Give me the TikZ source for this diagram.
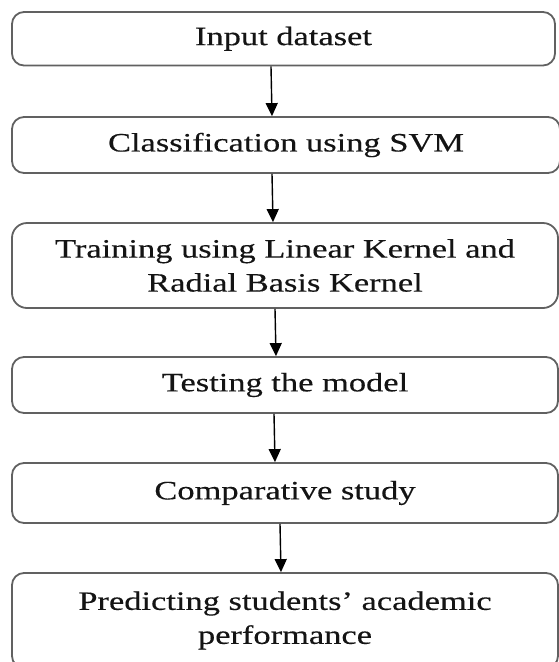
\documentclass[tikz,border=0pt]{standalone}
\usepackage{fontspec}
\setmainfont[FakeStretch=1.3,FakeBold=0.3]{Liberation Serif}
\usetikzlibrary{arrows.meta}
\begin{document}
\begin{tikzpicture}[x=1pt,y=-1pt,
  stepbox/.style={draw=black!62, line width=1.8pt, rounded corners=12pt, fill=white,
    minimum width=546pt, inner sep=0pt, align=center, text=black!92,
    font=\fontsize{26.5}{34}\selectfont},
  arr/.style={draw=black, line width=1.4pt, -{Triangle[length=13pt,width=12pt]}}]
\useasboundingbox (0,0) rectangle (559,662);
\clip (0,0) rectangle (559,662);
\node[stepbox, minimum width=543pt, minimum height=53.5pt] (b1) at (283.5,38.75) {Input dataset};
\node[stepbox, minimum width=548pt, minimum height=56pt] (b2) at (286,145) {Classification using SVM};
\node[stepbox, rounded corners=15pt, minimum height=85pt] (b3) at (285,265.5) {Training using Linear Kernel and\\Radial Basis Kernel};
\node[stepbox, minimum height=56pt] (b4) at (285,385) {Testing the model};
\node[stepbox, minimum height=60pt] (b5) at (285,493) {Comparative study};
\node[stepbox, minimum height=95pt] (b6) at (285,620.5) {Predicting students’ academic\\performance};
\coordinate (a1s) at (271,0); \coordinate (a1e) at (272,0);
\coordinate (a2s) at (272,0); \coordinate (a2e) at (273,0);
\coordinate (a3s) at (275,0); \coordinate (a3e) at (276,0);
\coordinate (a4s) at (274,0); \coordinate (a4e) at (275,0);
\coordinate (a5s) at (280,0); \coordinate (a5e) at (281,0);
\draw[arr] (b1.south -| a1s) -- (b2.north -| a1e);
\draw[arr] (b2.south -| a2s) -- (b3.north -| a2e);
\draw[arr] (b3.south -| a3s) -- (b4.north -| a3e);
\draw[arr] (b4.south -| a4s) -- (b5.north -| a4e);
\draw[arr] (b5.south -| a5s) -- (b6.north -| a5e);
\end{tikzpicture}
\end{document}
